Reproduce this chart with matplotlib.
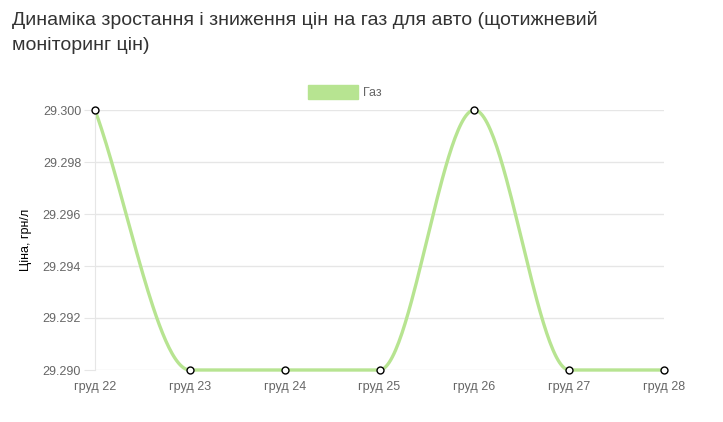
import numpy as np
import matplotlib
matplotlib.use("Agg")
import matplotlib.pyplot as plt
from matplotlib.patches import Patch

# Data
dates = ["груд 22", "груд 23", "груд 24", "груд 25", "груд 26", "груд 27", "груд 28"]
prices = [29.300, 29.290, 29.290, 29.290, 29.300, 29.290, 29.290]
yticks = [29.290, 29.292, 29.294, 29.296, 29.298, 29.300]

title = "Динаміка зростання і зниження цін на газ для авто (щотижневий\nмоніторинг цін)"
line_color = "#b7e491"

plt.rcParams['font.family'] = ['Liberation Sans', 'DejaVu Sans']


def monotone_curve(xs, ys, n=60):
    # Fritsch-Carlson monotone cubic, like chart.js "monotone"
    xs = np.asarray(xs, float)
    ys = np.asarray(ys, float)
    d = np.diff(ys) / np.diff(xs)
    m = np.zeros_like(ys)
    m[0] = d[0]
    m[-1] = d[-1]
    for i in range(1, len(ys) - 1):
        if d[i - 1] * d[i] <= 0:
            m[i] = 0
        else:
            m[i] = (d[i - 1] + d[i]) / 2
    for i in range(len(d)):
        if d[i] == 0:
            m[i] = m[i + 1] = 0
            continue
        a, b = m[i] / d[i], m[i + 1] / d[i]
        s = a * a + b * b
        if s > 9:
            t = 3 / np.sqrt(s)
            m[i] = t * a * d[i]
            m[i + 1] = t * b * d[i]
    px, py = [], []
    for i in range(len(d)):
        h = xs[i + 1] - xs[i]
        t = np.linspace(0, 1, n)
        h00 = 2 * t**3 - 3 * t**2 + 1
        h10 = t**3 - 2 * t**2 + t
        h01 = -2 * t**3 + 3 * t**2
        h11 = t**3 - t**2
        px.extend(xs[i] + t * h)
        py.extend(h00 * ys[i] + h10 * h * m[i] + h01 * ys[i + 1] + h11 * h * m[i + 1])
    return px, py


x = np.arange(len(dates))
cx, cy = monotone_curve(x, prices)

fig = plt.figure(figsize=(7.23, 4.22), dpi=100)
ax = fig.add_axes([95 / 723, 1 - 370 / 422, (664 - 95) / 723, 260 / 422])

ax.plot(cx, cy, color=line_color, linewidth=2.4, solid_capstyle='round', zorder=2, clip_on=False)
ax.plot(x, prices, linestyle='none', marker='o', markersize=5, markerfacecolor='white',
        markeredgecolor='black', markeredgewidth=1.0, zorder=3, clip_on=False)

ax.set_xlim(0, len(dates) - 1)
ax.set_ylim(29.290, 29.300)
ax.set_xticks(x)
ax.set_xticklabels(dates)
ax.set_yticks(yticks)
ax.set_yticklabels([f"{v:.3f}" for v in yticks])

ax.grid(axis='y', color='#e6e6e6', linewidth=1)
ax.set_axisbelow(True)
for s in ['top', 'right', 'bottom']:
    ax.spines[s].set_visible(False)
ax.spines['left'].set_color('#e6e6e6')
ax.tick_params(axis='y', length=8, color='#e6e6e6', labelsize=9, labelcolor='#666666', pad=2)
ax.tick_params(axis='x', length=0, labelsize=9, labelcolor='#666666', pad=8)

ax.set_ylabel("Ціна, грн/л", fontsize=9, color='black', labelpad=8)

fig.text(12 / 723, 1 - 11 / 422, title, fontsize=14, color='#333333', va='top', ha='left',
         linespacing=1.6)

leg = fig.legend(handles=[Patch(facecolor=line_color, edgecolor=line_color, label="Газ")],
                 loc='center', bbox_to_anchor=(345 / 723, 1 - 92 / 422), frameon=False,
                 fontsize=9, handlelength=4, handleheight=1.3, handletextpad=0.4)
for t in leg.get_texts():
    t.set_color('#666666')

fig.savefig("out.png", dpi=100)
